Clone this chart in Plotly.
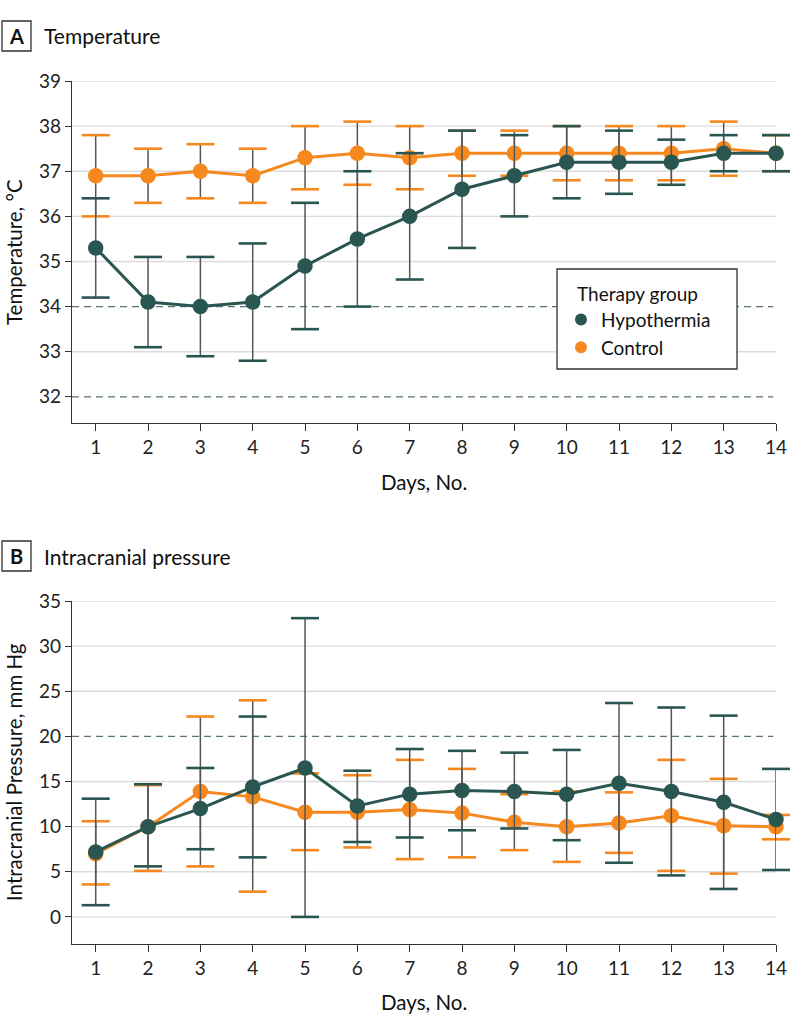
import plotly.graph_objects as go
from plotly.subplots import make_subplots

days = list(range(1, 15))

# Panel A: temperature (°C)
temp_hypo_mean = [35.3, 34.1, 34.0, 34.1, 34.9, 35.5, 36.0, 36.6, 36.9, 37.2, 37.2, 37.2, 37.4, 37.4]
temp_hypo_upper = [36.4, 35.1, 35.1, 35.4, 36.3, 37.0, 37.4, 37.9, 37.8, 38.0, 37.9, 37.7, 37.8, 37.8]
temp_hypo_lower = [34.2, 33.1, 32.9, 32.8, 33.5, 34.0, 34.6, 35.3, 36.0, 36.4, 36.5, 36.7, 37.0, 37.0]
temp_ctrl_mean = [36.9, 36.9, 37.0, 36.9, 37.3, 37.4, 37.3, 37.4, 37.4, 37.4, 37.4, 37.4, 37.5, 37.4]
temp_ctrl_upper = [37.8, 37.5, 37.6, 37.5, 38.0, 38.1, 38.0, 37.9, 37.9, 38.0, 38.0, 38.0, 38.1, 37.8]
temp_ctrl_lower = [36.0, 36.3, 36.4, 36.3, 36.6, 36.7, 36.6, 36.9, 36.9, 36.8, 36.8, 36.8, 36.9, 37.0]

# Panel B: intracranial pressure (mm Hg)
icp_hypo_mean = [7.2, 10.0, 12.0, 14.4, 16.5, 12.3, 13.6, 14.0, 13.9, 13.6, 14.8, 13.9, 12.7, 10.8]
icp_hypo_upper = [13.1, 14.7, 16.5, 22.2, 33.1, 16.2, 18.6, 18.4, 18.2, 18.5, 23.7, 23.2, 22.3, 16.4]
icp_hypo_lower = [1.3, 5.6, 7.5, 6.6, 0.0, 8.3, 8.8, 9.6, 9.8, 8.5, 6.0, 4.6, 3.1, 5.2]
icp_ctrl_mean = [7.0, 10.0, 13.9, 13.3, 11.6, 11.6, 11.9, 11.5, 10.5, 10.0, 10.4, 11.2, 10.1, 10.0]
icp_ctrl_upper = [10.6, 14.6, 22.2, 24.0, 15.9, 15.7, 17.4, 16.4, 13.6, 13.9, 13.8, 17.4, 15.3, 11.3]
icp_ctrl_lower = [3.6, 5.1, 5.6, 2.8, 7.4, 7.7, 6.4, 6.6, 7.4, 6.1, 7.1, 5.1, 4.8, 8.6]

temp_ticks = [32, 33, 34, 35, 36, 37, 38, 39]
temp_solid_grid = [33, 35, 36, 37, 38, 39]
temp_dashed = [34, 32]
icp_ticks = [0, 5, 10, 15, 20, 25, 30, 35]
icp_solid_grid = [0, 5, 10, 15, 25, 30, 35]
icp_dashed = [20]

HYPO = "#2a5652"
CTRL = "#f5891f"
STEM = "#555555"
FONT = "Lato"
W, H = 798, 1029
ML, MR, MT, MB = 72, 22, 81, 85
PW, PH = W - ML - MR, H - MT - MB


def px_x(p):
    return (p - ML) / PW


def px_y(p):
    return (H - MB - p) / PH


fig = make_subplots(rows=2, cols=1, vertical_spacing=0.0)
fig.update_layout(
    yaxis=dict(domain=[px_y(423), 1.0]),
    yaxis2=dict(domain=[0.0, px_y(601)]),
)


def add_series(row, mean, upper, lower, color, name):
    fig.add_trace(go.Scatter(
        x=days, y=mean, mode="lines+markers", name=name, showlegend=False,
        line=dict(color=color, width=3),
        marker=dict(color=color, size=15.5),
        error_y=dict(type="data", symmetric=False,
                     array=[u - m for u, m in zip(upper, mean)],
                     arrayminus=[m - l for m, l in zip(mean, lower)],
                     color=STEM, thickness=1.5, width=0),
        cliponaxis=False,
    ), row=row, col=1)
    fig.add_trace(go.Scatter(
        x=days + days, y=upper + lower, mode="markers", showlegend=False,
        hoverinfo="skip",
        marker=dict(symbol="line-ew", size=20, line=dict(color=color, width=2.6)),
        cliponaxis=False,
    ), row=row, col=1)


add_series(1, temp_ctrl_mean, temp_ctrl_upper, temp_ctrl_lower, CTRL, "Control")
add_series(1, temp_hypo_mean, temp_hypo_upper, temp_hypo_lower, HYPO, "Hypothermia")
add_series(2, icp_ctrl_mean, icp_ctrl_upper, icp_ctrl_lower, CTRL, "Control")
add_series(2, icp_hypo_mean, icp_hypo_upper, icp_hypo_lower, HYPO, "Hypothermia")

# legend-only traces
for name, color in [("Hypothermia", HYPO), ("Control", CTRL)]:
    fig.add_trace(go.Scatter(x=[None], y=[None], mode="markers", name=name,
                             marker=dict(color=color, size=15)), row=1, col=1)

axis_common = dict(
    showline=True, linecolor="#333333", linewidth=1.3,
    ticks="outside", tickcolor="#333333", tickwidth=1.3,
    tickfont=dict(family=FONT, size=19, color="#222222"),
    zeroline=False, showgrid=False,
)
for r in (1, 2):
    fig.update_xaxes(range=[0.547, 14.0], tickvals=days, ticklen=7, **axis_common, row=r, col=1)
fig.update_yaxes(range=[31.42, 39], tickvals=temp_ticks, ticklen=6, **axis_common, row=1, col=1)
fig.update_yaxes(range=[-3.0, 35], tickvals=icp_ticks, ticklen=6, **axis_common, row=2, col=1)

# gridlines and dashed reference lines
for vals, xr, yr in [(temp_solid_grid, "x domain", "y"), (icp_solid_grid, "x2 domain", "y2")]:
    for yv in vals:
        fig.add_shape(type="line", xref=xr, yref=yr, x0=0, x1=1, y0=yv, y1=yv,
                      line=dict(color="#dcdcdc", width=1.4), layer="below")
for vals, xr, yr in [(temp_dashed, "x domain", "y"), (icp_dashed, "x2 domain", "y2")]:
    for yv in vals:
        fig.add_shape(type="line", xref=xr, yref=yr, x0=0, x1=0.996, y0=yv, y1=yv,
                      line=dict(color="#55736f", width=1.3, dash="7px,5px"), layer="below")

# panel title boxes
for letter, top, label in [("A", 21, "Temperature"), ("B", 541, "Intracranial pressure")]:
    fig.add_shape(type="rect", xref="paper", yref="paper",
                  x0=px_x(2), x1=px_x(31), y0=px_y(top), y1=px_y(top + 30),
                  line=dict(color="#333333", width=1.3), fillcolor="white")
    fig.add_annotation(xref="paper", yref="paper", x=px_x(16.5), y=px_y(top + 15),
                       text="<b>" + letter + "</b>", showarrow=False,
                       font=dict(family=FONT, size=20, color="#111111"),
                       xanchor="center", yanchor="middle")
    fig.add_annotation(xref="paper", yref="paper", x=px_x(42), y=px_y(top + 15),
                       text=label, showarrow=False,
                       font=dict(family=FONT, size=21, color="#111111"),
                       xanchor="left", yanchor="middle")

# axis titles
for txt, cy in [("Temperature, °C", 252), ("Intracranial Pressure, mm Hg", 772)]:
    fig.add_annotation(xref="paper", yref="paper", x=px_x(14), y=px_y(cy), text=txt,
                       textangle=-90, showarrow=False,
                       font=dict(family=FONT, size=20.5, color="#111111"),
                       xanchor="center", yanchor="middle")
for cy in (482, 1002):
    fig.add_annotation(xref="paper", yref="paper", x=px_x(424), y=px_y(cy), text="Days, No.",
                       showarrow=False, font=dict(family=FONT, size=20.5, color="#111111"),
                       xanchor="center", yanchor="middle")

# legend frame
fig.add_shape(type="rect", xref="paper", yref="paper",
              x0=px_x(557), x1=px_x(737), y0=px_y(269), y1=px_y(369),
              line=dict(color="#333333", width=1.3), fillcolor="white", layer="above")

fig.update_layout(
    width=W, height=H,
    margin=dict(l=ML, r=MR, t=MT, b=MB),
    paper_bgcolor="white", plot_bgcolor="white",
    font=dict(family=FONT, color="#111111"),
    showlegend=True,
    legend=dict(
        x=px_x(561), y=px_y(276), xanchor="left", yanchor="top",
        borderwidth=0, bgcolor="rgba(0,0,0,0)",
        title=dict(text="\u00a0\u00a0\u00a0Therapy group", font=dict(family=FONT, size=19)),
        font=dict(family=FONT, size=19),
        itemsizing="constant",
    ),
)

fig.write_html("out.html", config={"displayModeBar": False},
               post_script="document.body.style.margin='0';document.body.style.overflow='hidden';")
